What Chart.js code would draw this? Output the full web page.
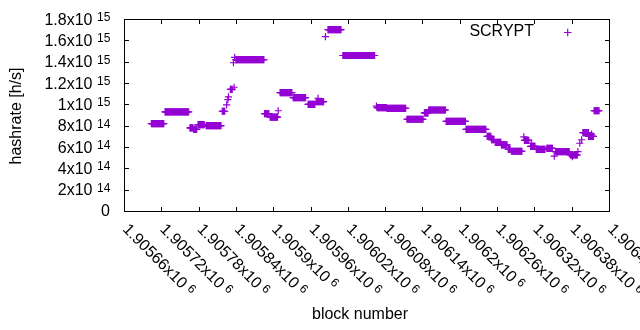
<!DOCTYPE html>
<html><head><meta charset="utf-8">
<script src="https://cdn.jsdelivr.net/npm/chart.js@4.4.1/dist/chart.umd.min.js"></script>
<style>html,body{margin:0;padding:0;background:#fff;}canvas{display:block;}</style>
</head><body>
<canvas id="c" width="640" height="330"></canvas>
<script>
const seriesName = 'SCRYPT';
const xTitle = 'block number';
const yTitle = 'hashrate [h/s]';

// runs of blocks that share one hashrate value (one point per block)
const runStart = [1905704,1905726,1905766,1905772,1905779,1905792,1905818,1905825,1905827,1905828,1905831,1905836,1905837,1905838,1905840,1905886,1905895,1905908,1905911,1905932,1905956,1905969,1905972,1905984,1905988,1906012,1906066,1906067,1906083,1906115,1906143,1906150,1906178,1906210,1906244,1906251,1906257,1906267,1906278,1906283,1906303,1906304,1906315,1906314,1906323,1906340,1906352,1906354,1906378,1906381,1906390,1906393,1906396,1906398,1906407,1906412,1906416];
const runEnd   = [1905724,1905764,1905771,1905777,1905789,1905816,1905822,1905825,1905827,1905828,1905834,1905836,1905837,1905838,1905885,1905893,1905907,1905908,1905930,1905952,1905967,1905981,1905972,1905984,1906009,1906063,1906066,1906082,1906113,1906141,1906149,1906177,1906209,1906242,1906250,1906255,1906266,1906276,1906281,1906300,1906303,1906311,1906315,1906321,1906337,1906349,1906352,1906376,1906389,1906381,1906390,1906393,1906396,1906407,1906415,1906412,1906424];
const runValue = [0.82e15,0.93e15,0.78e15,0.765e15,0.81e15,0.80e15,0.935e15,0.995e15,1.045e15,1.07e15,1.14e15,1.39e15,1.16e15,1.44e15,1.42e15,0.913e15,0.88e15,0.94e15,1.11e15,1.062e15,1.00e15,1.025e15,1.057e15,1.635e15,1.70e15,1.458e15,0.984e15,0.97e15,0.963e15,0.86e15,0.92e15,0.947e15,0.84e15,0.766e15,0.70e15,0.668e15,0.644e15,0.619e15,0.578e15,0.56e15,0.695e15,0.663e15,0.635e15,0.605e15,0.578e15,0.588e15,0.515e15,0.556e15,0.525e15,0.51e15,0.556e15,0.635e15,0.668e15,0.734e15,0.70e15,0.72e15,0.94e15];

const xTickValues = [1905660,1905720,1905780,1905840,1905900,1905960,1906020,1906080,1906140,1906200,1906260,1906320,1906380,1906440];
const xTickLabels = [['1.90566x10','6'],['1.90572x10','6'],['1.90578x10','6'],['1.90584x10','6'],['1.9059x10','6'],['1.90596x10','6'],['1.90602x10','6'],['1.90608x10','6'],['1.90614x10','6'],['1.9062x10','6'],['1.90626x10','6'],['1.90632x10','6'],['1.90638x10','6'],['1.90644x10','6']];
const yTickValues = [0,2e14,4e14,6e14,8e14,1e15,1.2e15,1.4e15,1.6e15,1.8e15];
const yTickLabels = [['0',''],['2x10','14'],['4x10','14'],['6x10','14'],['8x10','14'],['1x10','15'],['1.2x10','15'],['1.4x10','15'],['1.6x10','15'],['1.8x10','15']];

const points = [];
runStart.forEach((s, i) => {
  for (let b = s; b <= runEnd[i]; b++) points.push({x: b, y: runValue[i]});
});

const COLOR = '#9400D3';
const FONT = '"Liberation Sans", Arial, sans-serif';

const gnuplotFrame = {
  id: 'gnuplotFrame',
  afterDatasetsDraw(chart) {
    const {ctx, chartArea: a, scales: {x, y}} = chart;
    const L = Math.round(a.left), R = Math.round(a.right), T = Math.round(a.top), B = Math.round(a.bottom);
    ctx.save();
    ctx.strokeStyle = '#000';
    ctx.lineWidth = 1;
    ctx.beginPath();
    ctx.rect(L + 0.5, T + 0.5, R - L, B - T);
    yTickValues.forEach(v => {
      const py = Math.round(y.getPixelForValue(v)) + 0.5;
      ctx.moveTo(L, py); ctx.lineTo(L + 5, py);
      ctx.moveTo(R + 1, py); ctx.lineTo(R - 4, py);
    });
    xTickValues.forEach(v => {
      const px = Math.round(x.getPixelForValue(v)) + 0.5;
      ctx.moveTo(px, B + 1); ctx.lineTo(px, B - 4);
      ctx.moveTo(px, T); ctx.lineTo(px, T + 5);
    });
    ctx.stroke();

    ctx.fillStyle = '#000';
    // y tick labels
    yTickValues.forEach((v, i) => {
      const py = y.getPixelForValue(v);
      const [m, e] = yTickLabels[i];
      ctx.font = '16px ' + FONT;
      ctx.textBaseline = 'alphabetic';
      if (e) {
        ctx.textAlign = 'right';
        ctx.fillText(m, 92.5, py + 5.5);
        ctx.font = '12px ' + FONT;
        ctx.textAlign = 'left';
        ctx.fillText(e, 97, py + 2);
      } else {
        ctx.textAlign = 'right';
        ctx.fillText(m, 110, py + 5);
      }
    });
    // x tick labels, rotated
    xTickValues.forEach((v, i) => {
      const px = x.getPixelForValue(v);
      const [m, e] = xTickLabels[i];
      ctx.save();
      ctx.translate(px + 1, 227);
      ctx.rotate(Math.PI / 4);
      ctx.font = '16px ' + FONT;
      ctx.textAlign = 'left';
      ctx.textBaseline = 'middle';
      ctx.fillText(m, 0, 0);
      const w = ctx.measureText(m).width;
      ctx.font = '12px ' + FONT;
      ctx.fillText(e, w + 4, -3);
      ctx.restore();
    });
    // axis titles
    ctx.font = '16px ' + FONT;
    ctx.textAlign = 'center';
    ctx.textBaseline = 'middle';
    ctx.fillText(xTitle, 360, 315);
    ctx.save();
    ctx.translate(17, 116);
    ctx.rotate(-Math.PI / 2);
    ctx.fillText(yTitle, 0, 0);
    ctx.restore();
    // legend
    ctx.textAlign = 'right';
    ctx.fillText(seriesName, 534, 32);
    ctx.strokeStyle = COLOR;
    ctx.lineWidth = 1.2;
    ctx.beginPath();
    ctx.moveTo(564, 32.5); ctx.lineTo(571.5, 32.5);
    ctx.moveTo(567.7, 28.8); ctx.lineTo(567.7, 36.3);
    ctx.stroke();
    ctx.restore();
  }
};

new Chart(document.getElementById('c'), {
  type: 'scatter',
  data: {
    datasets: [{
      label: seriesName,
      data: points,
      pointStyle: 'cross',
      pointRadius: 3.6,
      pointBorderWidth: 1.2,
      borderColor: COLOR,
      backgroundColor: COLOR,
      showLine: false
    }]
  },
  options: {
    responsive: false,
    devicePixelRatio: 1,
    animation: false,
    events: [],
    layout: {padding: {left: 124, top: 19, right: 31, bottom: 119}},
    plugins: {legend: {display: false}, tooltip: {enabled: false}},
    scales: {
      x: {type: 'linear', display: false, min: 1905660, max: 1906440,
          afterBuildTicks: s => { s.ticks = xTickValues.map(v => ({value: v})); }},
      y: {type: 'linear', display: false, min: 0, max: 1.8e15,
          afterBuildTicks: s => { s.ticks = yTickValues.map(v => ({value: v})); }}
    }
  },
  plugins: [gnuplotFrame]
});
</script>
</body></html>
